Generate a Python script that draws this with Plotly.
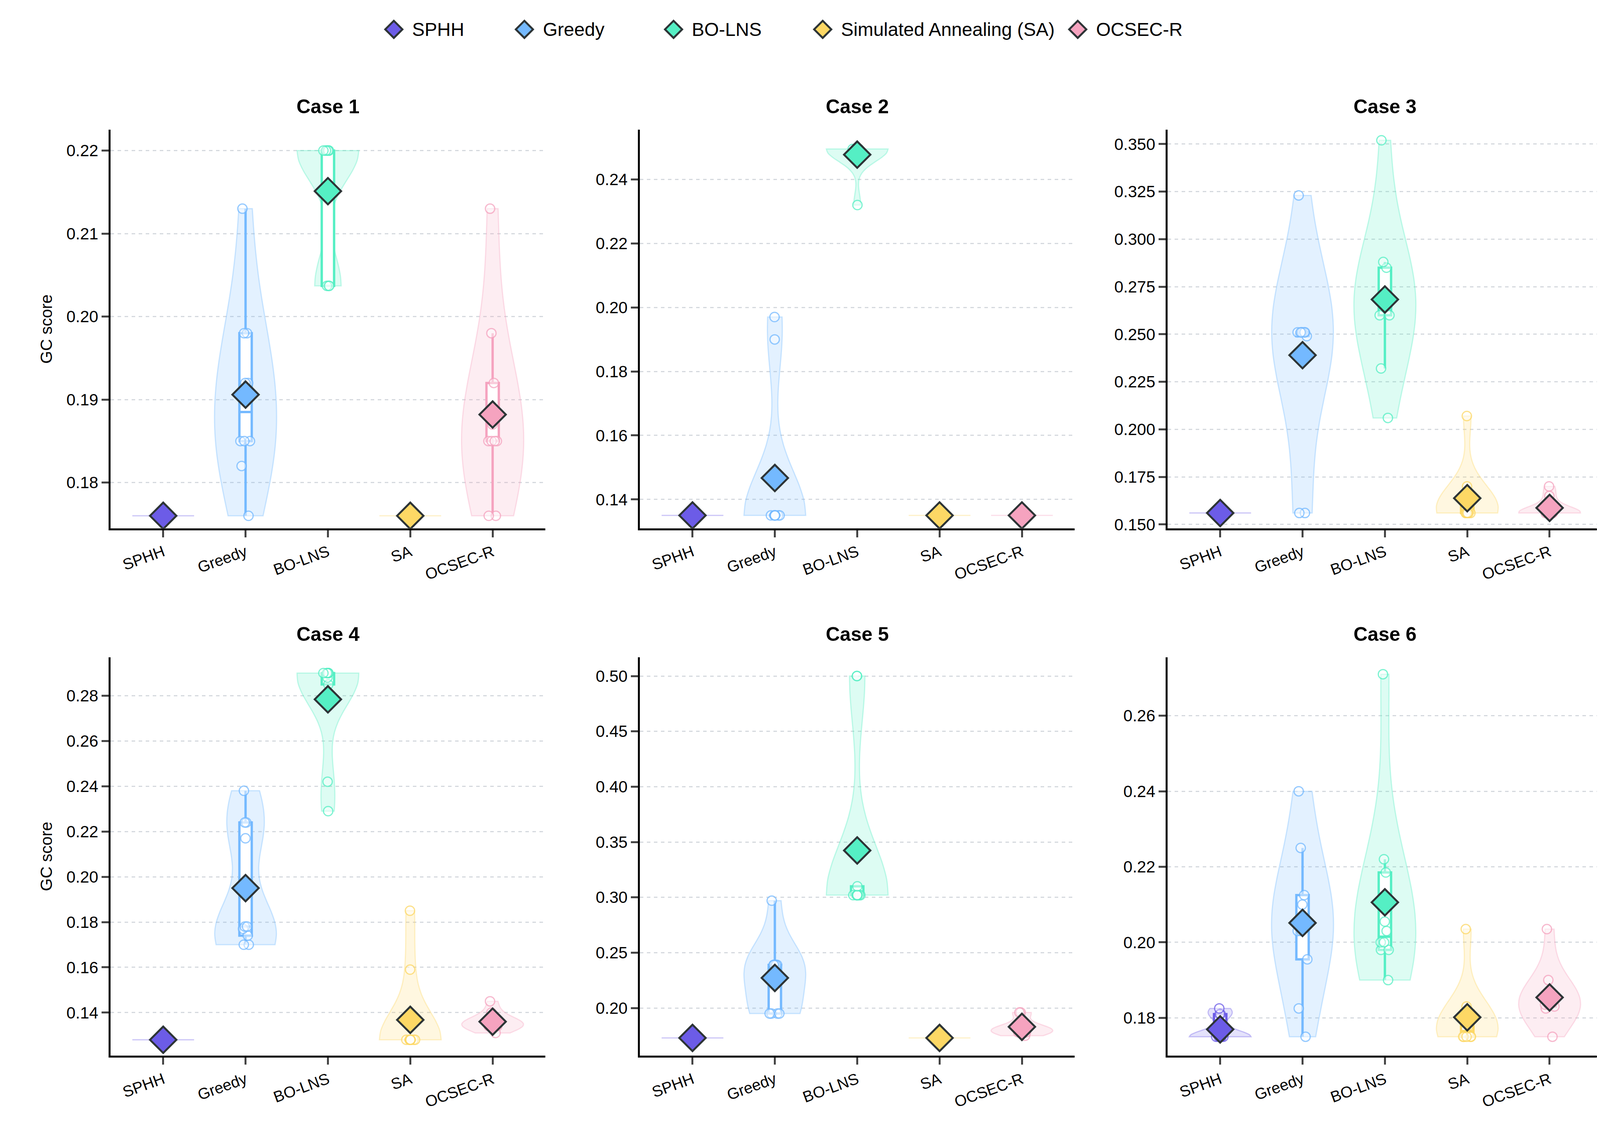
import plotly.graph_objects as go

METHODS = ["SPHH", "Greedy", "BO-LNS", "SA", "OCSEC-R"]
LEGEND_NAMES = ["SPHH", "Greedy", "BO-LNS", "Simulated Annealing (SA)", "OCSEC-R"]
COLORS = ["#6C5CE7", "#74B9FF", "#55EFC4", "#FDD865", "#F5A3BF"]
FILLS = ["rgba(108,92,231,0.18)", "rgba(116,185,255,0.2)", "rgba(85,239,196,0.2)",
         "rgba(253,216,101,0.2)", "rgba(245,163,191,0.2)"]
EDGES = ["rgba(108,92,231,0.35)", "rgba(116,185,255,0.35)", "rgba(85,239,196,0.35)",
         "rgba(253,216,101,0.35)", "rgba(245,163,191,0.35)"]

# per-case run results, one list per method
case1 = [
    [0.176] * 10,
    [0.213, 0.198, 0.198, 0.192, 0.185, 0.185, 0.176, 0.185, 0.192, 0.182],
    [0.220] * 7 + [0.2037] * 3,
    [0.176] * 10,
    [0.213, 0.198, 0.192, 0.185, 0.185, 0.185, 0.185, 0.176, 0.176, 0.187],
]
case2 = [
    [0.135] * 10,
    [0.197, 0.190] + [0.135] * 8,
    [0.2495] * 9 + [0.232],
    [0.135] * 10,
    [0.135] * 10,
]
case3 = [
    [0.156] * 10,
    [0.323] + [0.251] * 6 + [0.156, 0.156, 0.249],
    [0.352, 0.288, 0.285, 0.270, 0.265, 0.260, 0.260, 0.265, 0.232, 0.206],
    [0.207, 0.170, 0.165, 0.160] + [0.156] * 6,
    [0.170, 0.165, 0.160] + [0.156] * 7,
]
case4 = [
    [0.128] * 10,
    [0.238, 0.224, 0.224, 0.217, 0.178, 0.178, 0.174, 0.170, 0.177, 0.170],
    [0.290] * 6 + [0.288, 0.285, 0.242, 0.229],
    [0.185, 0.159] + [0.128] * 8,
    [0.145, 0.140, 0.136, 0.135, 0.135, 0.135, 0.134, 0.135, 0.131, 0.134],
]
case5 = [
    [0.173] * 10,
    [0.297] + [0.239] * 5 + [0.195] * 4,
    [0.500, 0.500, 0.310] + [0.302] * 7,
    [0.173] * 10,
    [0.196, 0.196, 0.185, 0.180, 0.175, 0.180, 0.182, 0.180, 0.178, 0.178],
]
case6 = [
    [0.1825, 0.181, 0.181] + [0.175] * 7,
    [0.240, 0.225, 0.2125, 0.203, 0.1955, 0.1825, 0.175, 0.203, 0.210, 0.205],
    [0.271, 0.222, 0.2185, 0.2055, 0.203, 0.200, 0.198, 0.198, 0.190, 0.200],
    [0.2035, 0.183, 0.182, 0.180, 0.178] + [0.175] * 5,
    [0.2035, 0.190, 0.1835, 0.1825, 0.1835, 0.185, 0.184, 0.183, 0.175, 0.184],
]
CASES = [case1, case2, case3, case4, case5, case6]
Y_RANGES = [[0.1745, 0.2225], [0.131, 0.2555], [0.148, 0.3575],
             [0.121, 0.297], [0.157, 0.517], [0.170, 0.2755]]
Y_DTICK = [0.01, 0.02, 0.025, 0.02, 0.05, 0.02]
Y_FMT = [".2f", ".2f", ".3f", ".2f", ".2f", ".2f"]

X_DOMAINS = [[0.067, 0.338], [0.397, 0.668], [0.726, 0.997]]
Y_DOMAINS = [[0.540, 0.889], [0.078, 0.427]]
# hand-placed legend (plotly caps legend symbol size)
LEGEND_X = [0.2436, 0.3250, 0.4180, 0.5110, 0.6700]
LEGEND_Y = 0.977

FONT = "Arial, Liberation Sans, sans-serif"

fig = go.Figure()
layout = {}
for ci, data in enumerate(CASES):
    row, col = divmod(ci, 3)
    n = ci + 1
    xa = "x" if n == 1 else f"x{n}"
    ya = "y" if n == 1 else f"y{n}"
    for mi, vals in enumerate(data):
        spread = max(vals) - min(vals)
        extra = {"bandwidth": spread * 0.22} if spread > 0 else {}
        fig.add_trace(go.Violin(
            x=[METHODS[mi]] * len(vals), y=vals, xaxis=xa, yaxis=ya,
            name=METHODS[mi], showlegend=False, spanmode="hard",
            width=0.75, scalemode="width", fillcolor=FILLS[mi],
            line=dict(color=EDGES[mi], width=3),
            box=dict(visible=True, width=0.2, fillcolor="white",
                     line=dict(color=COLORS[mi], width=6)),
            meanline=dict(visible=False),
            points="all", pointpos=0, jitter=0.2,
            marker=dict(size=24, color="rgba(255,255,255,0.6)",
                        line=dict(color=COLORS[mi], width=3), opacity=0.75),
            hoveron="violins+points", **extra,
        ))
    for mi, vals in enumerate(data):
        fig.add_trace(go.Scatter(
            x=[METHODS[mi]], y=[sum(vals) / len(vals)], xaxis=xa, yaxis=ya,
            mode="markers", name=LEGEND_NAMES[mi], showlegend=False,
            marker=dict(symbol="diamond", size=52, color=COLORS[mi],
                        line=dict(color="#2D3436", width=5)),
        ))
    layout[f"xaxis{'' if n == 1 else n}"] = dict(
        domain=X_DOMAINS[col], anchor=ya, type="category",
        categoryorder="array", categoryarray=METHODS,
        showline=True, linecolor="black", linewidth=5, ticks="outside",
        ticklen=18, tickwidth=5, tickangle=-20, showgrid=False,
        tickfont=dict(size=40, family=FONT, color="black"))
    layout[f"yaxis{'' if n == 1 else n}"] = dict(
        domain=Y_DOMAINS[row], anchor=xa, range=Y_RANGES[ci],
        dtick=Y_DTICK[ci], tickformat=Y_FMT[ci],
        showline=True, linecolor="black", linewidth=5, ticks="outside",
        ticklen=18, tickwidth=5, zeroline=False,
        showgrid=True, gridcolor="#D5D9DE", griddash="dash", gridwidth=3,
        tickfont=dict(size=42, family=FONT, color="black"),
        title=dict(text="GC score" if col == 0 else "",
                   font=dict(size=42, family=FONT, color="black"), standoff=25))

annotations = []
for ci in range(6):
    row, col = divmod(ci, 3)
    xd = X_DOMAINS[col]
    annotations.append(dict(
        text=f"<b>Case {ci + 1}</b>", x=(xd[0] + xd[1]) / 2,
        y=Y_DOMAINS[row][1] + 0.01, xref="paper", yref="paper",
        xanchor="center", yanchor="bottom", showarrow=False,
        font=dict(size=50, family=FONT, color="black")))

shapes = []
dx, dy = 22 / 4106, 22 / 2937
for lx, name, colr in zip(LEGEND_X, LEGEND_NAMES, COLORS):
    shapes.append(dict(
        type="path", xref="paper", yref="paper",
        path=(f"M {lx - dx} {LEGEND_Y} L {lx} {LEGEND_Y + dy} "
              f"L {lx + dx} {LEGEND_Y} L {lx} {LEGEND_Y - dy} Z"),
        fillcolor=colr, line=dict(color="#2D3436", width=5)))
    annotations.append(dict(
        text=name, x=lx + 0.011, y=LEGEND_Y, xref="paper", yref="paper",
        xanchor="left", yanchor="middle", showarrow=False,
        font=dict(size=48, family=FONT, color="black")))

fig.update_layout(
    **layout,
    annotations=annotations,
    shapes=shapes,
    width=4106, height=2937,
    margin=dict(l=0, r=0, t=0, b=0),
    plot_bgcolor="white", paper_bgcolor="white",
    violinmode="overlay", showlegend=False,
    font=dict(family=FONT, color="black"),
)

fig.write_html("out.html")
